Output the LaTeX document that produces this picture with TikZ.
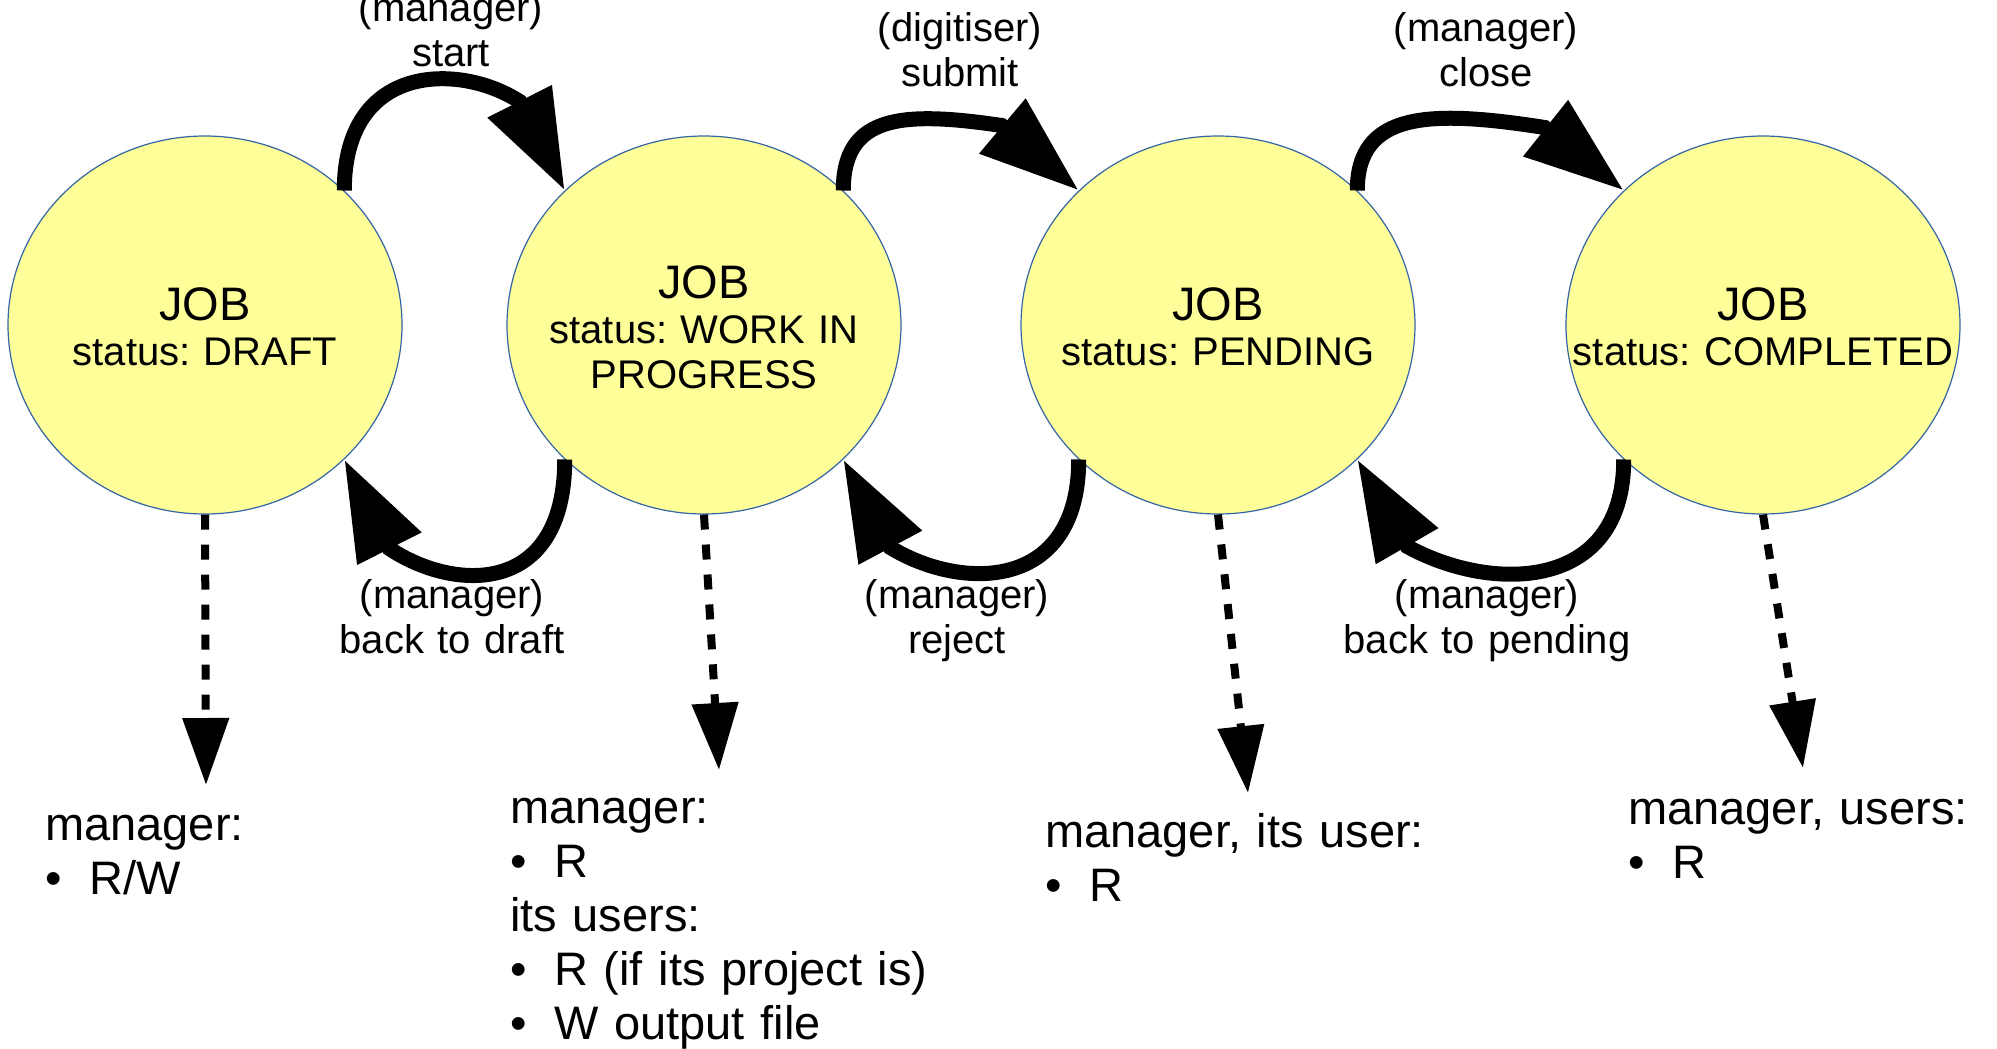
\documentclass[tikz,border=0pt]{standalone}
\usepackage{fontspec}
\setmainfont{Liberation Sans}
\usetikzlibrary{arrows.meta, bending, shapes.geometric, calc}
\frenchspacing

\definecolor{jobfill}{RGB}{255,255,153}
\definecolor{jobline}{RGB}{52,101,164}
\newcommand{\itm}{\makebox[44pt][l]{•}}

\begin{document}
\begin{tikzpicture} [x = 1pt, y = -1pt,
  jobstate/.style = {ellipse, draw = jobline, line width = 1.2pt, fill = jobfill, minimum width = 394pt, minimum height = 378pt, inner sep = 0pt},
  jobtext/.style = {anchor = base, align = center, text width = 390pt, inner sep = 0pt, font = \fontsize{40}{45}\selectfont},
  trans/.style = {anchor = base, align = center, text width = 400pt, inner sep = 0pt, font = \fontsize{40}{45}\selectfont},
  rights/.style = {anchor = base west, align = left, text width = 600pt, inner sep = 0pt, font = \fontsize{47}{54}\selectfont},
  flow/.style = {line width = 15pt, -{Triangle[length = 100pt, width = 68pt]}},
  access/.style = {line width = 8pt, dash pattern = on 15pt off 15pt, -{Triangle[length = 67pt, width = 45pt]}}]
\useasboundingbox (0,0) rectangle (1997,1049);

\node[jobstate] (draft) at (205,325) {};
\node[jobstate] (wip) at (704,325) {};
\node[jobstate] (pend) at (1218,325) {};
\node[jobstate] (done) at (1763,325) {};

\node[jobtext] (draft-txt) at (205,320) {{\fontsize{47}{45}\selectfont JOB}\\status: DRAFT};
\node[jobtext] (wip-txt) at (704,298) {{\fontsize{47}{45}\selectfont JOB}\\status: WORK IN\\PROGRESS};
\node[jobtext] (pend-txt) at (1218,320) {{\fontsize{47}{45}\selectfont JOB}\\status: PENDING};
\node[jobtext] (done-txt) at (1763,320) {{\fontsize{47}{45}\selectfont JOB}\\status: COMPLETED};

% forward
\draw[flow] (draft.44) .. controls +(0,-128) and +(-60,-39) .. ($(wip.136)+(-45,-89)$) -- (wip.136);
\draw[flow] (wip.44) .. controls +(0,-75) and +(-101,-15) .. ($(pend.136)+(-77,-65)$) -- (pend.136);
\draw[flow] (pend.44) .. controls +(0,-79) and +(-115,-18) .. ($(done.136)+(-79,-63)$) -- (done.136);
% backward
\draw[flow] (wip.224) .. controls +(0,136) and +(66,44) .. ($(draft.316)+(45,89)$) -- (draft.316);
\draw[flow] (pend.224) .. controls +(0,133) and +(70,43) .. ($(wip.316)+(47,88)$) -- (wip.316);
\draw[flow] (done.224) .. controls +(0,133) and +(83,46) .. ($(pend.316)+(50,87)$) -- (pend.316);

\node[trans] (start) at (451,22) {(manager)\\start};
\node[trans] (submit) at (960,42) {(digitiser)\\submit};
\node[trans] (close) at (1486,42) {(manager)\\close};
\node[trans] (todraft) at (452,608) {(manager)\\back to draft};
\node[trans] (reject) at (957,608) {(manager)\\reject};
\node[trans] (topend) at (1487,608) {(manager)\\back to pending};

% access rights
\coordinate (draft-out) at (206,785);
\coordinate (wip-out) at (719,770);
\coordinate (pend-out) at (1248,793);
\coordinate (done-out) at (1803,768);
\draw[access] (draft.south) -- (draft-out);
\draw[access] (wip.south) -- (wip-out);
\draw[access] (pend.south) -- (pend-out);
\draw[access] (done.south) -- (done-out);

\node[rights] (draft-acc) at (45,840) {manager:\\\itm R/W};
\node[rights] (wip-acc) at (510,823) {manager:\\\itm R\\its users:\\\itm R (if its project is)\\\itm W output file};
\node[rights] (pend-acc) at (1045,847) {manager, its user:\\\itm R};
\node[rights] (done-acc) at (1628,824) {manager, users:\\\itm R};
\end{tikzpicture}
\end{document}
